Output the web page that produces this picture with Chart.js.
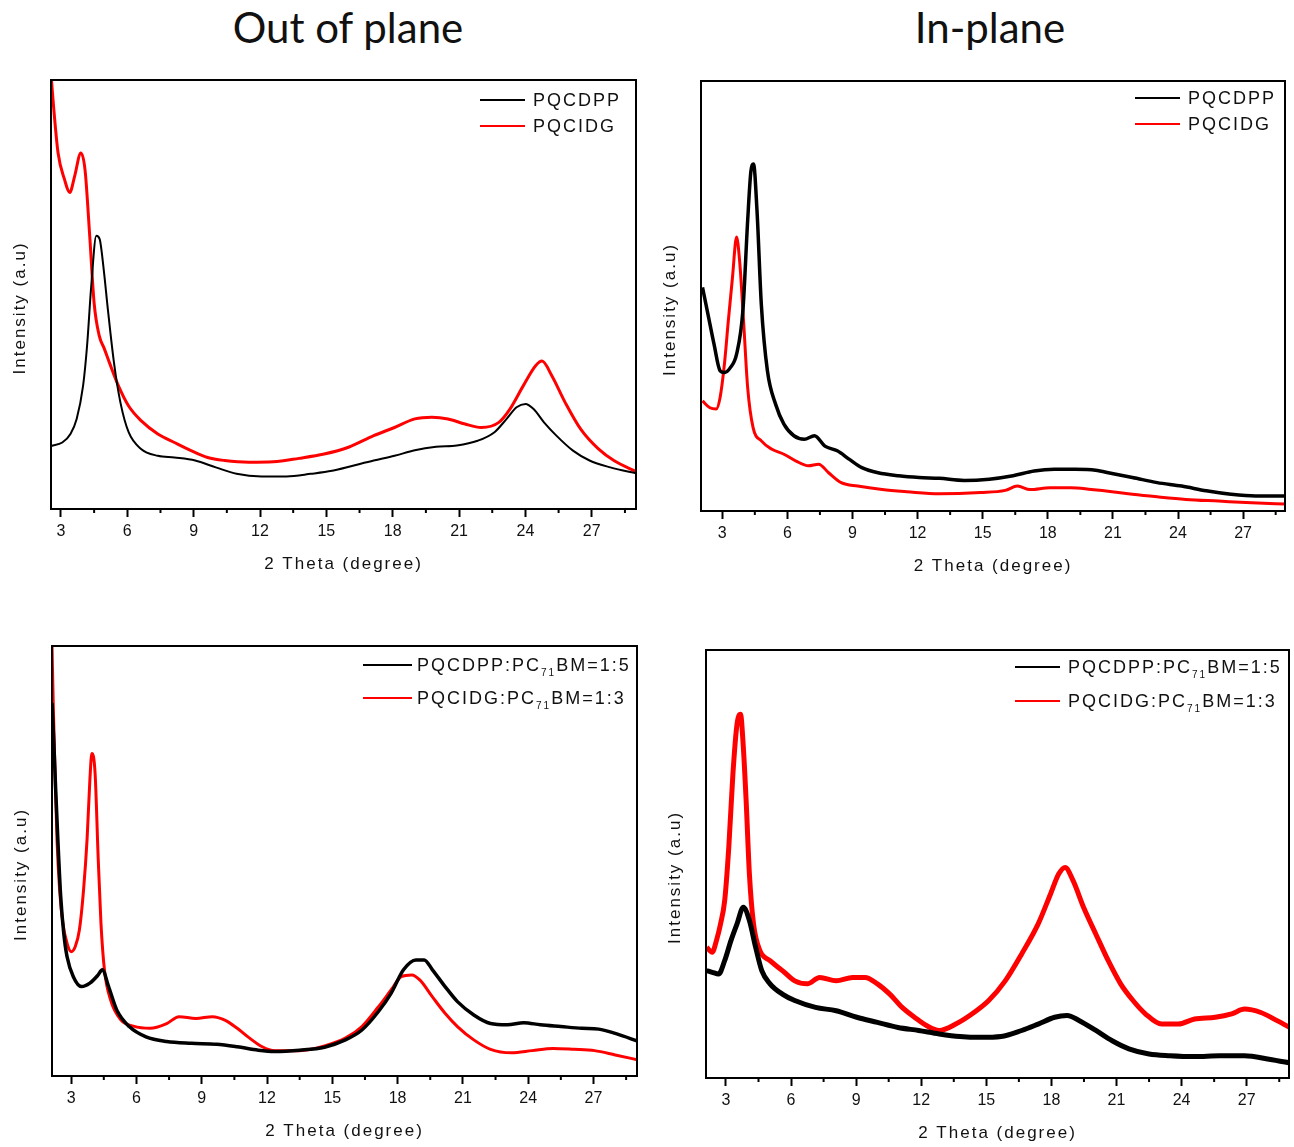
<!DOCTYPE html>
<html>
<head>
<meta charset="utf-8">
<script src="https://cdn.jsdelivr.net/npm/chart.js@4.4.1/dist/chart.umd.min.js"></script>
<style>
  html, body { margin: 0; padding: 0; background: #fff; }
  #page { position: relative; width: 1294px; height: 1147px; overflow: hidden; }
  .col-title {
      position: absolute; top: 2px; transform: translateX(-50%);
      font-family: Lato, "Liberation Sans", sans-serif; font-size: 42px;
      line-height: 50px; color: #111; white-space: nowrap;
  }
  canvas { position: absolute; }
</style>
</head>
<body>
<div id="page">
  <div class="col-title" style="left:348px;">Out of plane</div>
  <div class="col-title" style="left:990px;">In-plane</div>
</div>
<script>
// ─── AXIS TICKS / LABELS ──────────────────────────────────────
const majorTicks = [3, 6, 9, 12, 15, 18, 21, 24, 27];
const minorTicks = [4.5, 7.5, 10.5, 13.5, 16.5, 19.5, 22.5, 25.5, 28.5];
const neatNames  = ['PQCDPP', 'PQCIDG'];
const blendNames = ['PQCDPP:PC_71BM=1:5', 'PQCIDG:PC_71BM=1:3'];

// ─── OUT OF PLANE, NEAT FILMS ─────────────────────────────────
const oopNeatCdppX = [2.57,3.06,3.43,3.71,4.0,4.18,4.37,4.6,4.75,4.93,5.12,5.4,5.69,6.06,6.62,7.38,8.13,9.07,10.0,10.94,12.07,13.2,14.3,15.26,16.2,17.14,18.08,19.0,19.96,20.9,21.84,22.6,23.15,23.6,24.0,24.37,24.84,25.4,26.15,26.9,27.84,29.1];
const oopNeatCdppY = [14.7,15.5,17.5,21,28.7,38,52,63.7,62.9,56,46.6,34,24.8,17.9,14,12.4,12,11.3,9.7,8.2,7.6,7.6,8.2,8.9,10.1,11.3,12.4,13.7,14.5,14.8,15.9,17.9,21,23.7,24.5,23.3,20.2,17.1,13.6,11.3,9.7,8.2];
const oopNeatCidgX = [2.57,2.68,2.87,3.15,3.4,3.62,3.9,4.09,4.3,4.5,4.73,4.95,5.2,5.6,6.06,6.62,7.38,8.13,8.88,9.63,10.4,11.5,12.6,13.76,14.9,16.0,17.14,18.08,19.0,19.77,20.5,21.27,22.0,22.8,23.3,23.9,24.46,24.75,25.2,25.8,26.5,27.3,28.0,29.1];
const oopNeatCidgY = [100,93,83,77,73.8,77.6,83,79,63.7,48,40.4,37.5,34,28.7,24,20.6,17.5,15.5,13.6,12,11.3,10.9,11,11.8,12.8,14.4,17.1,19,21,21.4,21,19.8,19,20.2,23.3,28.7,33.4,34.5,31,24.8,18.6,14,11.3,8.5];

// ─── IN-PLANE, NEAT FILMS ─────────────────────────────────────
const ipNeatCdppX = [2.09,2.34,2.62,2.9,3.1,3.38,3.66,3.95,4.17,4.32,4.44,4.6,4.8,5.08,5.46,5.84,6.3,6.78,7.25,7.73,8.3,8.86,9.43,10.18,11.13,12.07,13.0,14.15,15.3,16.4,17.37,18.3,19.26,20.2,20.96,21.9,23.04,24.17,25.3,26.44,27.57,29.05];
const ipNeatCdppY = [52,45.8,38.8,32.6,32.2,33.4,36.5,46.6,67.5,79,80.7,69.9,48,32.6,24.8,20.2,17.5,16.7,17.5,15.1,14,12,10.1,8.9,8.2,7.8,7.6,7.1,7.4,8.2,9.3,9.7,9.7,9.5,8.7,7.8,6.6,5.8,4.7,3.9,3.5,3.5];
const ipNeatCidgX = [2.09,2.43,2.72,2.9,3.1,3.28,3.47,3.66,3.81,3.98,4.17,4.42,4.8,5.27,5.84,6.4,6.97,7.44,7.9,8.48,9.24,10.37,11.5,13.0,14.9,16.04,16.6,17.18,18.1,19.07,20.0,20.96,21.9,23.04,24.36,25.87,27.4,29.05];
const ipNeatCidgY = [25.6,24,23.7,26.4,34.2,44.3,54.3,63.7,57.5,44.3,28.7,19.4,16.3,14.4,13.2,11.6,10.5,10.9,8.9,6.6,5.8,5.0,4.5,4.0,4.3,4.8,5.8,5.0,5.4,5.4,5.0,4.5,3.9,3.3,2.7,2.3,1.9,1.6];

// ─── OUT OF PLANE, BLENDS ─────────────────────────────────────
const oopBlendCdppX = [2.12,2.2,2.29,2.39,2.52,2.66,2.81,3.1,3.48,3.86,4.24,4.43,4.72,5.1,5.67,6.44,7.39,8.53,9.68,10.63,11.6,12.35,13.5,14.64,15.6,16.36,17.12,17.7,18.27,18.84,19.22,19.6,20.18,20.75,21.5,22.27,23.04,23.8,24.56,25.5,26.47,27.24,28.0,29.09];
const oopBlendCdppY = [86.7,78,66.5,54.9,41.7,33.2,27.8,23.1,20.8,21.6,23.5,24.7,20.8,15.3,11.5,9.1,8.0,7.6,7.4,6.8,6.0,5.7,6.0,6.7,8.4,10.7,15.0,19.2,24.7,27.0,27.0,24.7,20.8,17.3,14.2,12.2,11.9,12.4,11.9,11.5,11.1,10.9,9.9,8.0];
const oopBlendCidgX = [2.12,2.18,2.26,2.35,2.47,2.62,2.81,3.0,3.19,3.38,3.57,3.73,3.86,3.95,4.1,4.24,4.37,4.53,4.81,5.29,5.86,6.63,7.39,7.96,8.73,9.49,10.06,10.63,11.2,11.78,12.35,13.5,14.64,15.6,16.36,17.12,17.7,18.17,18.65,19.03,19.6,20.18,20.75,21.5,22.27,23.23,24.18,25.14,26.1,27.05,28.0,29.09];
const oopBlendCidgY = [100,85.9,70.4,54.9,43.3,35.5,30.9,28.9,30.1,34.0,43.3,54.9,68.8,75.0,70.4,51.0,35.5,24.7,17.7,13.0,11.6,11.1,12.2,13.8,13.4,13.8,13.0,11.1,8.8,6.8,5.9,5.9,7.0,8.8,11.5,16.1,20.0,23.1,23.5,22.3,18.4,14.6,11.5,8.4,6.2,5.4,5.9,6.4,6.2,5.9,4.9,3.7];

// ─── IN-PLANE, BLENDS ─────────────────────────────────────────
const ipBlendCdppX = [2.11,2.37,2.66,2.94,3.23,3.51,3.8,4.08,4.37,4.65,5.03,5.6,6.17,7.13,8.08,9.03,9.98,10.93,11.88,12.83,13.78,14.73,15.68,16.63,17.39,18.15,18.72,19.29,20.05,20.8,21.57,22.5,23.46,24.6,25.75,26.9,28.03,29.14];
const ipBlendCdppY = [25.1,24.7,24.3,27.4,32.1,36,39.9,36.8,30.5,25.1,22,19.6,18.1,16.5,15.7,14.2,13.0,11.8,11.1,10.3,9.7,9.5,9.7,11.1,12.6,14.2,14.6,13.4,11.1,8.7,6.8,5.6,5.2,5.0,5.2,5.2,4.4,3.4];
const ipBlendCidgX = [2.11,2.37,2.56,2.75,2.94,3.13,3.32,3.51,3.67,3.8,3.93,4.08,4.27,4.56,5.03,5.6,6.17,6.75,7.32,8.08,8.84,9.41,9.98,10.55,11.12,11.69,12.26,12.83,13.59,14.35,15.11,15.87,16.63,17.39,17.96,18.34,18.63,19.0,19.48,20.05,20.62,21.19,21.76,22.33,23.08,23.84,24.6,25.55,26.31,26.9,27.65,28.4,29.14];
const ipBlendCidgY = [30.5,29.4,32.1,36,41.4,53.9,71,82.7,85,77.3,64.8,47.7,36,29.8,27.4,25.1,22.7,22,23.5,22.7,23.5,23.5,22,19.6,16.5,14.2,12.2,11.1,12.6,15.0,18.1,22.7,29,36,43,47.7,49.2,46.1,39.9,33.6,27.4,22,18.1,15.0,12.6,12.6,13.8,14.2,15.0,16.1,15.3,13.4,11.4];

// ─── PANEL LAYOUT ─────────────────────────────────────────────
const FONT = '"Liberation Sans", Arial, sans-serif';
const Y_AXIS_W = 51, PAD_T = 12, PAD_R = 10, X_AXIS_H = 82;

const panels = [
    { box: { l: 51, t: 80, r: 636, b: 509 }, xMin: 2.55, xMax: 29.0, names: neatNames,
      series: [
          { x: oopNeatCdppX, y: oopNeatCdppY, color: '#000000', width: 2 },
          { x: oopNeatCidgX, y: oopNeatCidgY, color: '#ff0000', width: 3 },
      ],
      legend: { line: [156, 111], text: 103, rows: [20, 46] } },
    { box: { l: 701, t: 81, r: 1285, b: 511 }, xMin: 2.02, xMax: 28.93, names: neatNames,
      series: [
          { x: ipNeatCdppX, y: ipNeatCdppY, color: '#000000', width: 3.5 },
          { x: ipNeatCidgX, y: ipNeatCidgY, color: '#ff0000', width: 3 },
      ],
      legend: { line: [150, 105], text: 97, rows: [17, 43] } },
    { box: { l: 52, t: 646, r: 637, b: 1076 }, xMin: 2.12, xMax: 29.0, names: blendNames,
      series: [
          { x: oopBlendCdppX, y: oopBlendCdppY, color: '#000000', width: 3.5 },
          { x: oopBlendCidgX, y: oopBlendCidgY, color: '#ff0000', width: 3 },
      ],
      legend: { line: [274, 225], text: 220, rows: [19, 52] } },
    { box: { l: 706, t: 650, r: 1289, b: 1078 }, xMin: 2.08, xMax: 28.95, names: blendNames,
      series: [
          { x: ipBlendCdppX, y: ipBlendCdppY, color: '#000000', width: 5 },
          { x: ipBlendCidgX, y: ipBlendCidgY, color: '#ff0000', width: 5 },
      ],
      legend: { line: [274, 229], text: 221, rows: [17, 51] } },
];

// ─── PLUGINS ──────────────────────────────────────────────────
// box frame, minor ticks, letter-spaced axis titles
const framePlugin = {
    id: 'frame',
    beforeDraw(chart) {
        Object.values(chart.scales).forEach(s => {
            if (s._spaced) return;
            const drawTitle = s.drawTitle;
            s.drawTitle = function () {
                const prev = this.ctx.letterSpacing;
                this.ctx.letterSpacing = '2px';
                drawTitle.call(this);
                this.ctx.letterSpacing = prev;
            };
            s._spaced = true;
        });
    },
    afterDraw(chart) {
        const { ctx, chartArea: a, scales: { x } } = chart;
        ctx.save();
        ctx.strokeStyle = '#000';
        ctx.lineWidth = 2;
        ctx.strokeRect(a.left, a.top, a.right - a.left, a.bottom - a.top);
        minorTicks.forEach(v => {
            if (v < x.min || v > x.max) return;
            const px = x.getPixelForValue(v);
            ctx.beginPath();
            ctx.moveTo(px, a.bottom);
            ctx.lineTo(px, a.bottom + 4);
            ctx.stroke();
        });
        ctx.restore();
    }
};

// legend inside the plot, with subscripts written as _71
const inlineLegend = {
    id: 'inlineLegend',
    afterDraw(chart, args, opts) {
        const { ctx, chartArea: a } = chart;
        ctx.save();
        ctx.letterSpacing = '2px';
        ctx.textBaseline = 'middle';
        chart.data.datasets.forEach((ds, i) => {
            const y = a.top + opts.rows[i];
            ctx.strokeStyle = ds.borderColor;
            ctx.lineWidth = 2;
            ctx.beginPath();
            ctx.moveTo(a.right - opts.line[0], y);
            ctx.lineTo(a.right - opts.line[1], y);
            ctx.stroke();

            let x = a.right - opts.text;
            ctx.fillStyle = '#111';
            ds.label.split(/_(\d+)/).forEach((part, k) => {
                const sub = k % 2 === 1;
                ctx.font = (sub ? '10px ' : '18px ') + FONT;
                ctx.fillText(part, x, sub ? y + 8 : y + 1);
                x += ctx.measureText(part).width;
            });
        });
        ctx.restore();
    }
};

// ─── CHARTS ───────────────────────────────────────────────────
function buildPanel(p) {
    const canvas = document.createElement('canvas');
    canvas.width  = p.box.r - p.box.l + Y_AXIS_W + PAD_R;
    canvas.height = p.box.b - p.box.t + PAD_T + X_AXIS_H;
    canvas.style.left = (p.box.l - Y_AXIS_W) + 'px';
    canvas.style.top  = (p.box.t - PAD_T) + 'px';
    document.getElementById('page').appendChild(canvas);

    new Chart(canvas, {
        type: 'line',
        data: {
            datasets: p.series.map((s, i) => ({
                label: p.names[i],
                data: s.x.map((x, k) => ({ x, y: s.y[k] })),
                borderColor: s.color,
                borderWidth: s.width,
                pointRadius: 0,
                cubicInterpolationMode: 'monotone',
                borderJoinStyle: 'round'
            }))
        },
        options: {
            responsive: false,
            animation: false,
            devicePixelRatio: 1,
            layout: { padding: { top: PAD_T, right: PAD_R, left: 0, bottom: 0 } },
            plugins: {
                legend: { display: false },
                tooltip: { enabled: false },
                inlineLegend: p.legend
            },
            scales: {
                x: {
                    type: 'linear',
                    min: p.xMin,
                    max: p.xMax,
                    afterBuildTicks: s => { s.ticks = majorTicks.map(v => ({ value: v })); },
                    afterFit: s => { s.height = X_AXIS_H; },
                    grid: { drawOnChartArea: false, tickLength: 8, tickWidth: 2, tickColor: '#000' },
                    border: { display: false },
                    ticks: { color: '#111', font: { family: FONT, size: 16 }, padding: 5, maxRotation: 0, autoSkip: false },
                    title: {
                        display: true, text: '2 Theta (degree)', color: '#111',
                        font: { family: FONT, size: 17 }, padding: { top: 0, bottom: 16 }
                    }
                },
                y: {
                    min: 0,
                    max: 100,
                    afterFit: s => { s.width = Y_AXIS_W; },
                    ticks: { display: false },
                    grid: { display: false },
                    border: { display: false },
                    title: {
                        display: true, text: 'Intensity (a.u)    ', color: '#111',
                        font: { family: FONT, size: 17 }, padding: { top: 10, bottom: 0 }
                    }
                }
            }
        },
        plugins: [framePlugin, inlineLegend]
    });
}

// ─── INIT ─────────────────────────────────────────────────────
panels.forEach(buildPanel);
</script>
</body>
</html>
